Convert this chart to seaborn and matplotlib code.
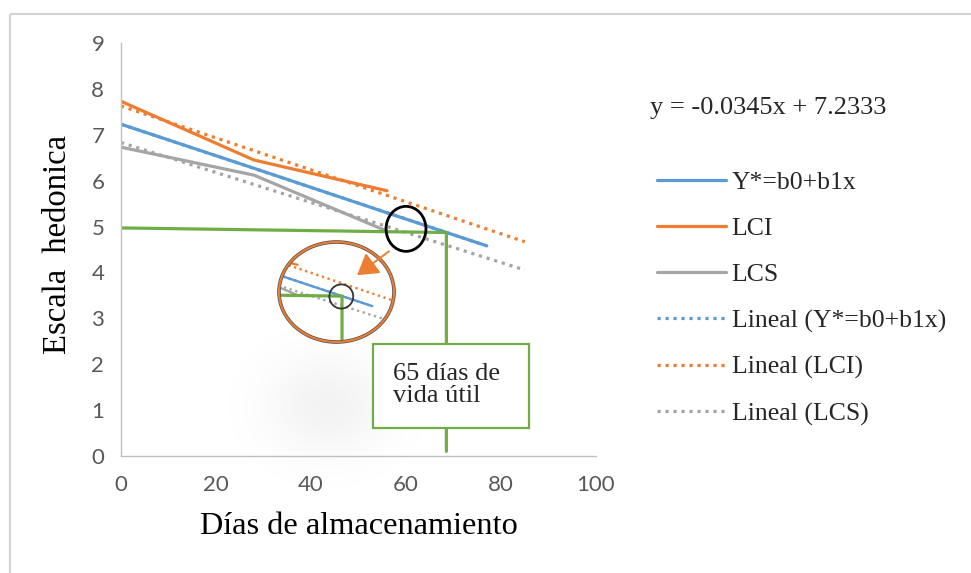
import numpy as np
import pandas as pd
import matplotlib
matplotlib.use("Agg")
import matplotlib.pyplot as plt
import seaborn as sns
from matplotlib.patches import Ellipse, Rectangle, FancyArrowPatch

# ---------------- data ----------------
dias_pred = [0, 28, 56, 77]
y_pred = [7.23, 6.27, 5.30, 4.58]
dias_lci = [0, 28, 56]
lci = [7.73, 6.45, 5.78]
dias_lcs = [0, 28, 56]
lcs = [6.73, 6.12, 4.90]
trend_end = 85
green_x = [0, 68.5, 68.5]
green_y = [4.97, 4.87, 0.10]
labels = ["Y*=b0+b1x", "LCI", "LCS", "Lineal (Y*=b0+b1x)", "Lineal (LCI)", "Lineal (LCS)"]
equation = "y = -0.0345x + 7.2333"
note = "65 días de\nvida útil"
xticks = [0, 20, 40, 60, 80, 100]
yticks = list(range(0, 10))

BLUE, ORANGE, GRAY, GREEN = "#5B9BD5", "#ED7D31", "#A5A5A5", "#70AD47"
SERIF = ["Liberation Serif", "DejaVu Serif"]

sns.set_theme(style="white")
plt.rcParams["font.family"] = ["Lato", "DejaVu Sans"]

W, H = 971, 573
fig = plt.figure(figsize=(W / 100, H / 100), dpi=100)
fig.patch.set_facecolor("white")

def fx(px):
    return px / W

def fy(py):
    return 1 - py / H

# soft shadow blob (background artefact)
bg = fig.add_axes([0, 0, 1, 1], zorder=-5)
bg.set_xlim(0, W); bg.set_ylim(H, 0); bg.axis("off")
gx, gy = np.meshgrid(np.arange(W), np.arange(H))
blob = np.exp(-(((gx - 327) / 62.0) ** 2 + ((gy - 405) / 52.0) ** 2))
img = np.ones((H, W, 4))
img[..., :3] = 0.0
img[..., 3] = 0.05 * blob
bg.imshow(img, extent=(0, W, H, 0), interpolation="bilinear", aspect="auto")
# figure frame (left & top visible)
bg.add_patch(Rectangle((10, 14), 1100, 700, fill=False, ec="#D4D4D4", lw=1.6))

ax = fig.add_axes([fx(121), fy(456), fx(596) - fx(121), fy(43) - fy(456)])
ax.set_facecolor("none")

def trend(xs, ys, x0, x1):
    b1, b0 = np.polyfit(xs, ys, 1)
    xx = np.array([x0, x1])
    return xx, b0 + b1 * xx

def draw_series(a, lw=2.3):
    sns.lineplot(x=dias_pred, y=y_pred, ax=a, color=BLUE, lw=lw, label=labels[0], legend=False)
    sns.lineplot(x=dias_lci, y=lci, ax=a, color=ORANGE, lw=lw, label=labels[1], legend=False)
    sns.lineplot(x=dias_lcs, y=lcs, ax=a, color=GRAY, lw=lw, label=labels[2], legend=False)
    dots = (1.0, 1.5)
    tx, ty = trend(dias_pred, y_pred, dias_pred[0], dias_pred[-1])
    a.plot(tx, ty, color=BLUE, lw=lw, dashes=dots, label=labels[3])
    tx, ty = trend(dias_lci, lci, 0, trend_end)
    a.plot(tx, ty, color=ORANGE, lw=lw, dashes=dots, label=labels[4])
    tx, ty = trend(dias_lcs, lcs, 0, trend_end)
    a.plot(tx, ty, color=GRAY, lw=lw, dashes=dots, label=labels[5])
    a.plot(green_x, green_y, color=GREEN, lw=2.3, solid_joinstyle="miter")

draw_series(ax)

ax.set_xlim(0, 100)
ax.set_ylim(0, 9)
ax.set_xticks(xticks)
ax.set_yticks(yticks)
for s in ["top", "right"]:
    ax.spines[s].set_visible(False)
for s in ["left", "bottom"]:
    ax.spines[s].set_color("#BFBFBF")
    ax.spines[s].set_linewidth(1.0)
ax.tick_params(axis="both", which="major", direction="out", length=5, width=1.0,
               color="#BFBFBF", labelcolor="#595959", labelsize=16)
ax.tick_params(axis="x", pad=9)
ax.tick_params(axis="y", pad=7)
ax.grid(False)

ax.set_xlabel("Días de almacenamiento", fontsize=23.3, family=SERIF, color="black")
ax.set_ylabel("Escala  hedonica", fontsize=23.5, family=SERIF, color="black")
ax.xaxis.set_label_coords(0.501, -0.135)
ax.yaxis.set_label_coords(-0.101, 0.513)

# black circle marking the cut point
ax.add_patch(Ellipse((60, 4.95), 8.4, 0.98, fill=False, ec="black", lw=2.0, zorder=6))

# text box
ax.add_patch(Rectangle((53.05, 0.61), 32.85, 1.83, fc="white", ec=GREEN, lw=1.6, zorder=7))
ax.text(fx(393), fy(385), note, transform=fig.transFigure, fontsize=19, family=SERIF,
        ha="left", va="center", linespacing=1.05, zorder=8)

# magnified inset view
axin = fig.add_axes([fx(279), fy(342), fx(394) - fx(279), fy(242) - fy(342)], zorder=5)
axin.patch.set_visible(False)
axin.axis("off")
axin.add_patch(Ellipse((0.5, 0.5), 1, 1, transform=axin.transAxes, fc="white", ec="none", zorder=0))
draw_series(axin, lw=1.7)
axin.set_xlim(50.8, 83.1)
axin.set_ylim(3.54, 6.44)
clip = Ellipse((0.5, 0.5), 1, 1, transform=axin.transAxes)
for ln in axin.lines:
    ln.set_clip_path(clip)
axin.add_patch(Ellipse((68.3, 4.86), 6.7, 0.70, fill=False, ec="#333333", lw=1.3, zorder=6))
axin.add_patch(Ellipse((0.5, 0.5), 1, 1, transform=axin.transAxes, fill=False,
                       ec="#555555", lw=2.6, zorder=7, clip_on=False))
axin.add_patch(Ellipse((0.5, 0.5), 1, 1, transform=axin.transAxes, fill=False,
                       ec=ORANGE, lw=1.5, zorder=8, clip_on=False))

# arrow to the magnified view (drawn above the inset)
axin.add_patch(FancyArrowPatch((56.4, 4.46), (49.7, 3.94), transform=ax.transData,
                               arrowstyle="-|>,head_length=0.9,head_width=0.55",
                               mutation_scale=14, color=ORANGE, lw=1.4, zorder=9,
                               shrinkA=0, shrinkB=0, clip_on=False))

# equation
fig.text(fx(650), fy(108), equation, fontsize=19, family=SERIF, ha="left", va="center")

# legend
handles = ax.get_lines()[:6]
leg = fig.legend(handles, labels, loc="center left", bbox_to_anchor=(fx(657), fy(298.5)),
                 frameon=False, prop={"family": SERIF, "size": 18.5}, handlelength=2.7,
                 handletextpad=0.2, labelspacing=0.9, borderpad=0, borderaxespad=0)

fig.savefig("out.png", dpi=100, facecolor="white")
